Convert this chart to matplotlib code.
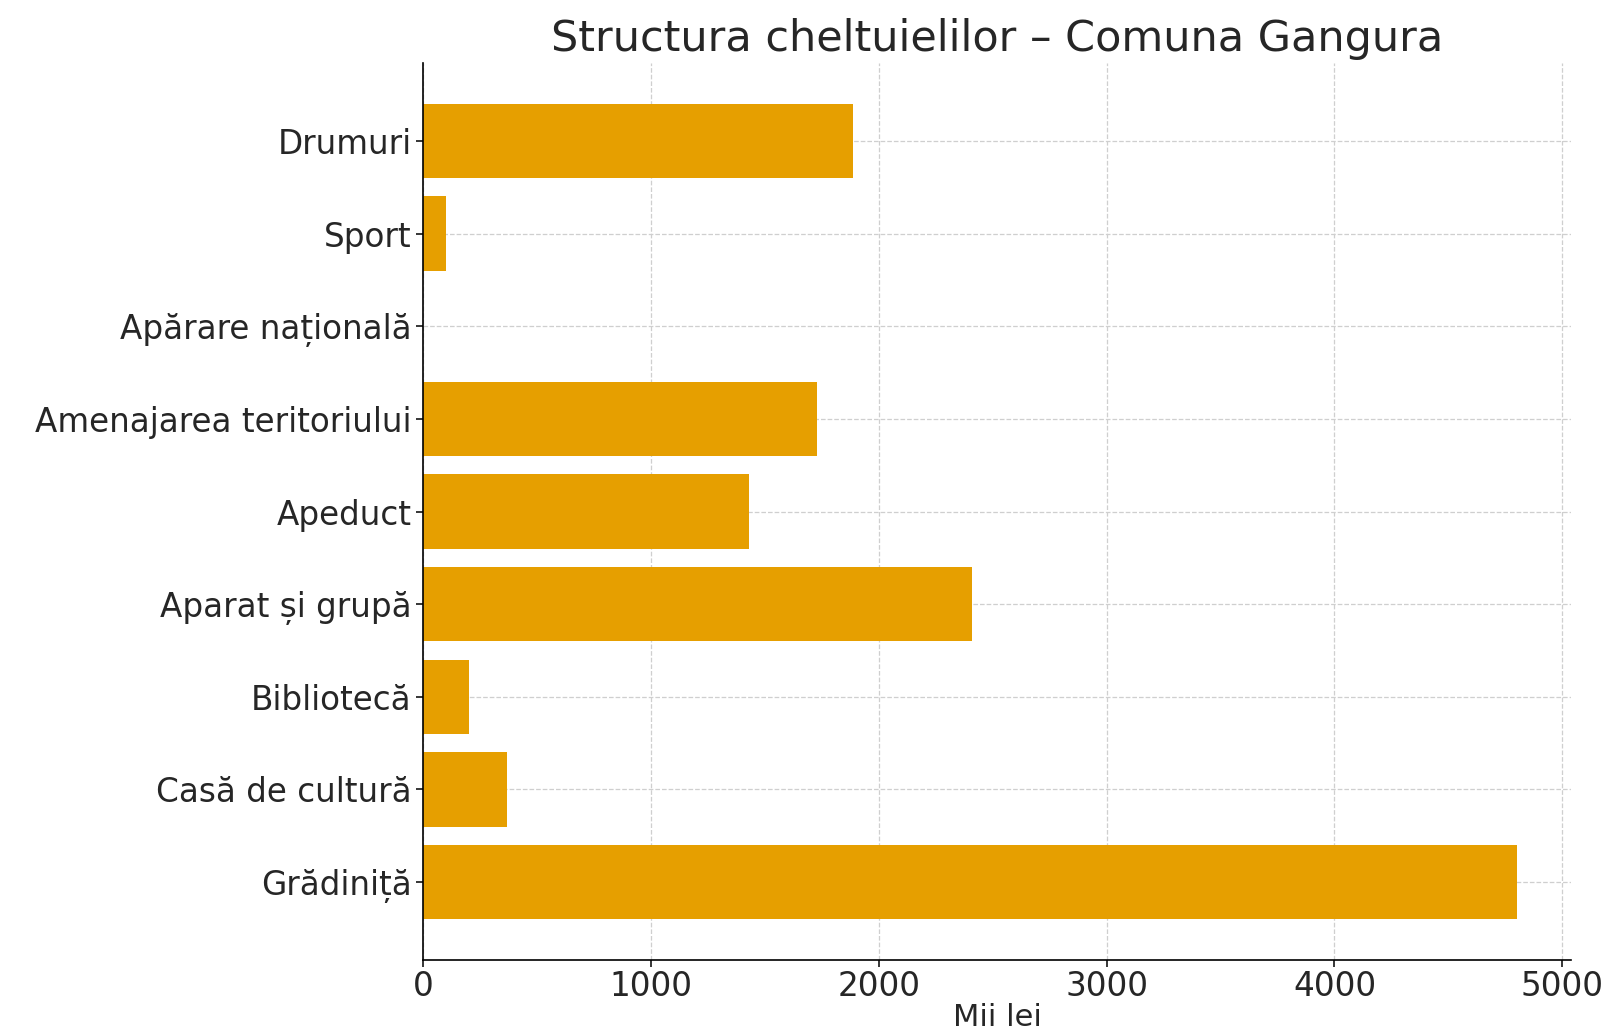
import matplotlib
matplotlib.use("Agg")
import matplotlib.pyplot as plt

# Categories (top to bottom as shown) and spending, thousand lei
categorii = ["Drumuri", "Sport", "Apărare națională", "Amenajarea teritoriului",
             "Apeduct", "Aparat și grupă", "Bibliotecă", "Casă de cultură",
             "Grădiniță"]
valori = [1885, 100, 0, 1730, 1430, 2410, 200, 365, 4800]

# barh draws from the bottom up, so reverse to keep Drumuri on top
categorii_plot = categorii[::-1]
valori_plot = valori[::-1]

plt.rcParams["font.family"] = "DejaVu Sans"

fig = plt.figure(figsize=(16.10, 10.34), dpi=100)
ax = fig.add_axes([0.263, 0.0716, 0.713, 0.8674])

ax.barh(categorii_plot, valori_plot, height=0.8, color="#E69F00", zorder=2)

ax.set_title("Structura cheltuielilor – Comuna Gangura", fontsize=31,
             color="#262626", pad=9)
ax.set_xlabel("Mii lei", fontsize=22, color="#262626", labelpad=0)

ax.set_xticks([0, 1000, 2000, 3000, 4000, 5000])
ax.tick_params(axis="both", labelsize=23.5, labelcolor="#262626",
               length=5, width=1.1)
ax.tick_params(axis="x", pad=2)

ax.grid(True, linestyle="--", color="#cfcfcf", linewidth=0.9)
ax.set_axisbelow(True)

for side in ["top", "right"]:
    ax.spines[side].set_visible(False)
for side in ["left", "bottom"]:
    ax.spines[side].set_linewidth(1.2)

fig.savefig("out.png", dpi=100)
